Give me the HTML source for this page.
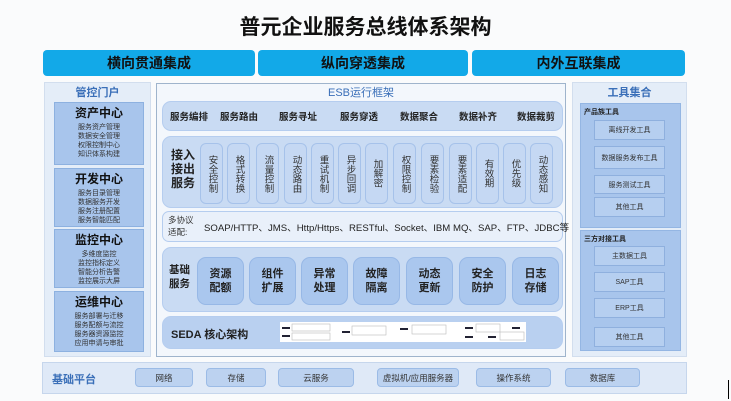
<!DOCTYPE html>
<html><head><meta charset="utf-8"><style>
*{margin:0;padding:0;box-sizing:border-box}
body{width:731px;height:401px;background:#fafbfc;position:relative;overflow:hidden;font-family:"Liberation Sans","Noto Sans CJK SC",sans-serif;color:#222}
.a{position:absolute}
.c{display:flex;align-items:center;justify-content:center;text-align:center}
.ban{background:#12a9e8;border-radius:4px;color:#111;font-size:14px;font-weight:bold;top:50px;height:26px}
.panel{background:#e4edf8;border:1px solid #d2deee}
.lb{background:#a8c5ec;border:1px solid #8db1e0;color:#333;font-size:7px;line-height:9px;text-align:center}
.lb b{display:block;font-size:12px;line-height:16px;color:#111;margin-top:2px;margin-bottom:2px}
.row{background:#c9dbf3;border:1px solid #b5cdef;border-radius:9px}
.col{background:#c5d8f3;border:1px solid #a6c2ea;border-radius:6px;font-size:9.5px;line-height:12px;color:#333;width:23px;top:143px;height:61px;writing-mode:vertical-rl;text-orientation:upright;letter-spacing:0}
.bs{background:#aac7ee;border:1px solid #97b8e6;border-radius:9px;font-size:11px;font-weight:bold;line-height:14px;color:#222;width:47px;top:257px;height:48px}
.tb{background:#b6cff0;border:1px solid #8fb0de;font-size:7px;color:#333;left:594px;width:71px}
.bb{background:#bcd2f0;border:1px solid #9bbbe6;border-radius:4px;font-size:8.5px;color:#333;top:368px;height:19px}
</style></head><body>
<div class="a c" style="left:0;width:731px;top:12px;height:28px;font-size:21px;font-weight:bold;color:#111">普元企业服务总线体系架构</div>
<div class="a c ban" style="left:43px;width:212px">横向贯通集成</div>
<div class="a c ban" style="left:258px;width:210px">纵向穿透集成</div>
<div class="a c ban" style="left:472px;width:213px">内外互联集成</div>

<div class="a panel" style="left:44px;top:82px;width:107px;height:275px"></div>
<div class="a c" style="left:44px;top:84px;width:107px;height:16px;font-size:11px;color:#3a6fb8;font-weight:bold">管控门户</div>
<div class="a lb" style="left:54px;top:102px;width:90px;height:63px"><b>资产中心</b>服务资产管理<br>数据安全管理<br>权限控制中心<br>知识体系构建</div>
<div class="a lb" style="left:54px;top:168px;width:90px;height:59px"><b>开发中心</b>服务目录管理<br>数据服务开发<br>服务注册配置<br>服务智能匹配</div>
<div class="a lb" style="left:54px;top:229px;width:90px;height:59px"><b>监控中心</b>多维度监控<br>监控指标定义<br>智能分析告警<br>监控展示大屏</div>
<div class="a lb" style="left:54px;top:291px;width:90px;height:61px"><b>运维中心</b>服务部署与迁移<br>服务配额与流控<br>服务器资源监控<br>应用申请与审批</div>

<div class="a" style="left:156px;top:83px;width:410px;height:274px;background:#f3f7fc;border:1px solid #9fb4cc"></div>
<div class="a c" style="left:156px;top:84px;width:410px;height:16px;font-size:11px;color:#3a6fb8">ESB运行框架</div>
<div class="a row" style="left:162px;top:101px;width:401px;height:30px"></div>
<div class="a" style="top:109px;font-size:9.5px;font-weight:bold;color:#222">
<span class="a" style="left:170px;white-space:nowrap">服务编排</span><span class="a" style="left:220px;white-space:nowrap">服务路由</span><span class="a" style="left:279px;white-space:nowrap">服务寻址</span><span class="a" style="left:340px;white-space:nowrap">服务穿透</span><span class="a" style="left:400px;white-space:nowrap">数据聚合</span><span class="a" style="left:459px;white-space:nowrap">数据补齐</span><span class="a" style="left:517px;white-space:nowrap">数据裁剪</span></div>
<div class="a row" style="left:162px;top:136px;width:401px;height:72px"></div>
<div class="a" style="left:171px;top:148px;font-size:12px;font-weight:bold;line-height:14px;color:#222">接入<br>接出<br>服务</div>
<div class="a c col" style="left:200px">安全控制</div>
<div class="a c col" style="left:227px">格式转换</div>
<div class="a c col" style="left:256px">流量控制</div>
<div class="a c col" style="left:284px">动态路由</div>
<div class="a c col" style="left:311px">重试机制</div>
<div class="a c col" style="left:338px">异步回调</div>
<div class="a c col" style="left:365px">加解密</div>
<div class="a c col" style="left:393px">权限控制</div>
<div class="a c col" style="left:421px">要素检验</div>
<div class="a c col" style="left:449px">要素适配</div>
<div class="a c col" style="left:476px">有效期</div>
<div class="a c col" style="left:503px">优先级</div>
<div class="a c col" style="left:530px">动态感知</div>
<div class="a row" style="left:162px;top:211px;width:401px;height:31px;background:#e9f0fa;border-radius:7px"></div>
<div class="a" style="left:168px;top:214px;font-size:8.5px;line-height:12px;color:#333">多协议<br>适配:</div>
<div class="a" style="left:204px;top:220px;font-size:9.6px;color:#222;white-space:nowrap">SOAP/HTTP、JMS、Http/Https、RESTful、Socket、IBM MQ、SAP、FTP、JDBC等</div>
<div class="a row" style="left:162px;top:247px;width:401px;height:65px"></div>
<div class="a" style="left:169px;top:263px;font-size:10.5px;font-weight:bold;line-height:14px;color:#222">基础<br>服务</div>
<div class="a c bs" style="left:197px">资源<br>配额</div>
<div class="a c bs" style="left:249px">组件<br>扩展</div>
<div class="a c bs" style="left:301px">异常<br>处理</div>
<div class="a c bs" style="left:353px">故障<br>隔离</div>
<div class="a c bs" style="left:406px">动态<br>更新</div>
<div class="a c bs" style="left:459px">安全<br>防护</div>
<div class="a c bs" style="left:512px">日志<br>存储</div>
<div class="a row" style="left:162px;top:316px;width:401px;height:33px;background:#b9d0f0"></div>
<div class="a" style="left:171px;top:326px;font-size:11px;font-weight:bold;color:#222">SEDA 核心架构</div>
<div class="a" style="left:280px;top:322px;width:246px;height:20px;background:#fff">
<svg width="246" height="20"><g fill="#223" ><rect x="2" y="5" width="8" height="2"/><rect x="2" y="13" width="8" height="2"/><rect x="62" y="9" width="8" height="2"/><rect x="120" y="6" width="8" height="2"/><rect x="185" y="5" width="8" height="2"/><rect x="185" y="14" width="8" height="2"/><rect x="208" y="14" width="8" height="2"/><rect x="232" y="5" width="8" height="2"/></g><g fill="none" stroke="#bbb" stroke-width=".6"><rect x="12" y="2" width="38" height="7"/><rect x="12" y="11" width="38" height="7"/><rect x="72" y="4" width="34" height="9"/><rect x="132" y="3" width="34" height="9"/><rect x="196" y="2" width="24" height="8"/><rect x="220" y="10" width="24" height="8"/></g></svg></div>

<div class="a panel" style="left:572px;top:82px;width:115px;height:275px"></div>
<div class="a c" style="left:572px;top:84px;width:115px;height:16px;font-size:11px;color:#3a6fb8;font-weight:bold">工具集合</div>
<div class="a" style="left:580px;top:103px;width:101px;height:125px;background:#a8c5ec;border:1px solid #94b6e3"></div>
<div class="a" style="left:584px;top:107px;font-size:7px;font-weight:bold;color:#222">产品族工具</div>
<div class="a c tb" style="top:120px;height:20px">离线开发工具</div>
<div class="a c tb" style="top:146px;height:23px">数据服务发布工具</div>
<div class="a c tb" style="top:175px;height:19px">服务测试工具</div>
<div class="a c tb" style="top:197px;height:20px">其他工具</div>
<div class="a" style="left:580px;top:230px;width:101px;height:121px;background:#a8c5ec;border:1px solid #94b6e3"></div>
<div class="a" style="left:584px;top:234px;font-size:7px;font-weight:bold;color:#222">三方对接工具</div>
<div class="a c tb" style="top:246px;height:20px">主数据工具</div>
<div class="a c tb" style="top:272px;height:20px">SAP工具</div>
<div class="a c tb" style="top:298px;height:20px">ERP工具</div>
<div class="a c tb" style="top:327px;height:20px">其他工具</div>

<div class="a" style="left:42px;top:362px;width:645px;height:32px;background:#dfe9f7;border:1px solid #c6d6ec"></div>
<div class="a" style="left:52px;top:371px;font-size:11px;font-weight:bold;color:#3a6fb8">基础平台</div>
<div class="a c bb" style="left:135px;width:58px">网络</div>
<div class="a c bb" style="left:206px;width:60px">存储</div>
<div class="a c bb" style="left:278px;width:76px">云服务</div>
<div class="a c bb" style="left:377px;width:82px">虚拟机/应用服务器</div>
<div class="a c bb" style="left:476px;width:75px">操作系统</div>
<div class="a c bb" style="left:565px;width:75px">数据库</div>
<div class="a" style="left:728px;top:380px;width:1px;height:19px;background:#000"></div>
</body></html>
